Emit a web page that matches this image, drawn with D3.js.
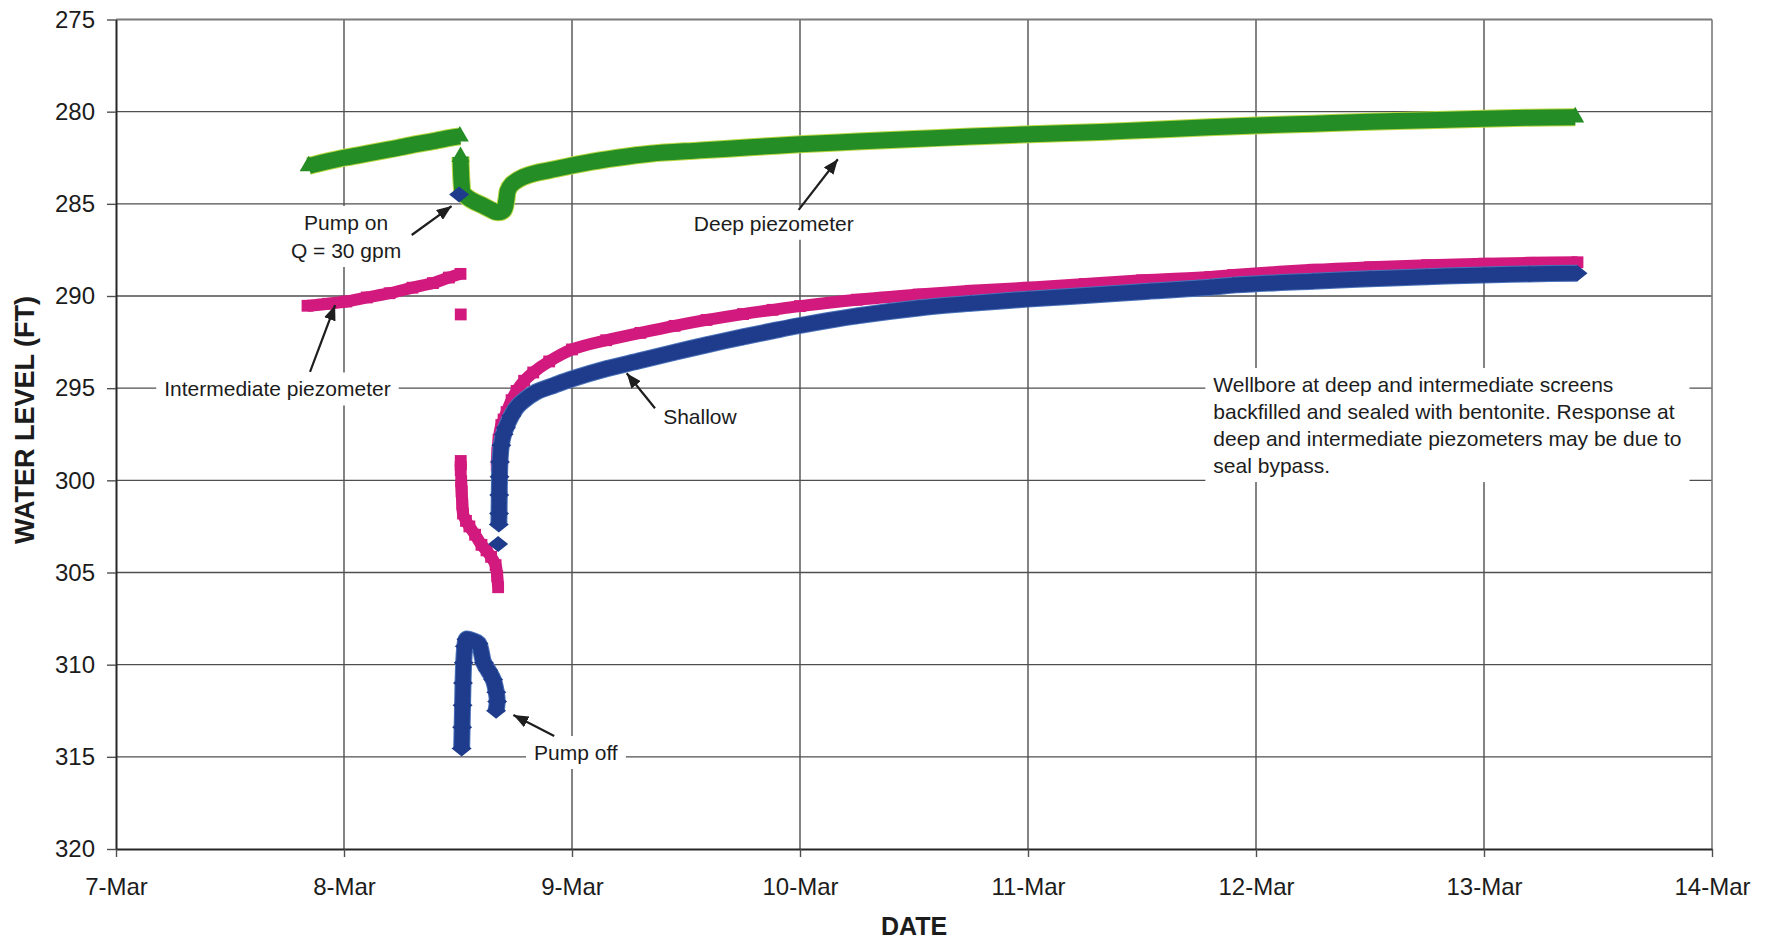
<!DOCTYPE html>
<html>
<head>
<meta charset="utf-8">
<script src="https://cdn.jsdelivr.net/npm/d3@7"></script>
<style>
  html, body { margin: 0; padding: 0; background: #ffffff; }
  svg { display: block; }
  text { font-family: "Liberation Sans", Arial, Helvetica, sans-serif; fill: #1c1c1c; }
</style>
</head>
<body>
<svg id="chart" width="1779" height="943"></svg>
<script>
// Axis labels
const dateLabels = ["7-Mar", "8-Mar", "9-Mar", "10-Mar", "11-Mar", "12-Mar", "13-Mar", "14-Mar"];
const levelTicks = [275, 280, 285, 290, 295, 300, 305, 310, 315, 320];

// Readings: [days after 7-Mar 00:00, water level (ft)]; null marks a break in the trace
const shallow = [
  [1.505, 284.5],
  null,
  [1.516, 314.55], [1.518, 313.4], [1.52, 312.2], [1.522, 311.0], [1.525, 309.9], [1.53, 309.0],
  [1.537, 308.62], [1.565, 308.7], [1.59, 308.85], [1.613, 309.9], [1.632, 310.3], [1.654, 310.8],
  [1.668, 311.5], [1.672, 312.0], [1.667, 312.5],
  null,
  [1.676, 303.45],
  null,
  [1.679, 302.4], [1.68, 301.8], [1.681, 300.8], [1.682, 299.8], [1.684, 299.0], [1.69, 298.1],
  [1.70, 297.5], [1.71, 297.15], [1.734, 296.5], [1.76, 296.0], [1.785, 295.7], [1.844, 295.2],
  [1.92, 294.85], [2.0, 294.5], [2.15, 293.95], [2.3, 293.5], [2.45, 293.05], [2.59, 292.65],
  [2.75, 292.22], [2.884, 291.88], [3.0, 291.6], [3.25, 291.08], [3.52, 290.65], [3.75, 290.4],
  [4.0, 290.17], [4.25, 289.97], [4.5, 289.77], [4.8, 289.53], [4.9, 289.41], [5.25, 289.2],
  [5.5, 289.07], [5.75, 288.95], [6.0, 288.86], [6.2, 288.8], [6.41, 288.77]
];

const intermediate = [
  [0.84, 290.53], [0.93, 290.42], [1.01, 290.3], [1.1, 290.08], [1.2, 289.85], [1.3, 289.55],
  [1.39, 289.3], [1.46, 289.0], [1.511, 288.8],
  null,
  [1.512, 291.0],
  null,
  [1.512, 298.95], [1.512, 299.45],
  null,
  [1.514, 300.05], [1.516, 300.6], [1.519, 301.3], [1.522, 301.8], [1.535, 302.2], [1.55, 302.5],
  [1.575, 302.95], [1.603, 303.5], [1.625, 303.8], [1.645, 304.15], [1.665, 304.6], [1.672, 305.2],
  [1.676, 305.8],
  null,
  [1.67, 299.2], [1.673, 298.5], [1.678, 297.8], [1.69, 297.0], [1.70, 296.7], [1.713, 296.3],
  [1.735, 295.65], [1.757, 295.15], [1.79, 294.6], [1.83, 294.15], [1.9, 293.55], [2.0, 292.9],
  [2.15, 292.4], [2.3, 292.0], [2.45, 291.62], [2.59, 291.3], [2.75, 290.98], [2.88, 290.75],
  [3.0, 290.55], [3.25, 290.2], [3.52, 289.92], [3.75, 289.72], [4.0, 289.55], [4.25, 289.35],
  [4.5, 289.15], [4.8, 288.97], [4.9, 288.86], [5.25, 288.58], [5.5, 288.44], [5.75, 288.33],
  [6.0, 288.25], [6.2, 288.2], [6.41, 288.17]
];

const deep = [
  [0.845, 282.95], [0.92, 282.72], [1.0, 282.5], [1.1, 282.28], [1.2, 282.05], [1.3, 281.8],
  [1.4, 281.58], [1.465, 281.42], [1.508, 281.34],
  null,
  [1.511, 282.45], [1.513, 283.2], [1.516, 283.9], [1.522, 284.4], [1.56, 284.8], [1.61, 285.1],
  [1.65, 285.35], [1.668, 285.45], [1.70, 285.35], [1.712, 284.8], [1.718, 284.3], [1.735, 283.95],
  [1.786, 283.55], [1.85, 283.3], [1.903, 283.17], [2.049, 282.8], [2.2, 282.5], [2.342, 282.28],
  [2.562, 282.1], [2.8, 281.92], [3.0, 281.77], [3.25, 281.62], [3.5, 281.48], [3.75, 281.35],
  [4.01, 281.22], [4.32, 281.1], [4.6, 280.95], [5.0, 280.75], [5.25, 280.65], [5.5, 280.55],
  [5.75, 280.47], [6.0, 280.38], [6.2, 280.33], [6.4, 280.3]
];

// Callouts: text anchored at [day, level] of the first baseline; arrows run tail -> tip
const notes = [
  { lines: ["Pump on", "Q = 30 gpm"], at: [1.009, 286.42], anchor: "middle", lineHeight: 28 },
  { lines: ["Intermediate piezometer"], at: [0.708, 295.45], anchor: "middle", lineHeight: 27 },
  { lines: ["Shallow"], at: [2.561, 296.94], anchor: "middle", lineHeight: 27 },
  { lines: ["Deep piezometer"], at: [2.885, 286.46], anchor: "middle", lineHeight: 27 },
  { lines: ["Pump off"], at: [2.017, 315.17], anchor: "middle", lineHeight: 27 },
  { lines: ["Wellbore at deep and intermediate screens",
            "backfilled and sealed with bentonite. Response at",
            "deep and intermediate piezometers may be due to",
            "seal bypass."], at: [4.813, 295.21], anchor: "start", lineHeight: 27 }
];
const arrows = [
  { from: [1.297, 286.69], to: [1.472, 285.12] },
  { from: [0.851, 294.12], to: [0.961, 290.50] },
  { from: [2.364, 296.09], to: [2.240, 294.19] },
  { from: [2.994, 285.33], to: [3.166, 282.58] },
  { from: [1.922, 313.87], to: [1.743, 312.73] }
];

// ---------------------------------------------------------------------------
const svg = d3.select("#chart");
const plot = { left: 116, right: 1712, top: 19.5, bottom: 849 };

const x = d3.scaleLinear().domain([0, dateLabels.length - 1]).range([plot.left, plot.right]);
const y = d3.scaleLinear().domain([levelTicks[0], levelTicks[levelTicks.length - 1]]).range([plot.top, plot.bottom]);

const gridColor = "#4f4f4f";
const borderColor = "#7a7a7a";

// Horizontal gridlines (inner levels)
svg.append("g")
  .selectAll("line")
  .data(levelTicks.slice(1, -1))
  .join("line")
  .attr("x1", plot.left).attr("x2", plot.right)
  .attr("y1", d => y(d)).attr("y2", d => y(d))
  .attr("stroke", gridColor).attr("stroke-width", 1.4);

// Vertical gridlines (inner days)
svg.append("g")
  .selectAll("line")
  .data(d3.range(1, dateLabels.length - 1))
  .join("line")
  .attr("x1", d => x(d)).attr("x2", d => x(d))
  .attr("y1", plot.top).attr("y2", plot.bottom)
  .attr("stroke", gridColor).attr("stroke-width", 1.4);

// Top and right frame
svg.append("line")
  .attr("x1", plot.left).attr("x2", plot.right).attr("y1", y(275)).attr("y2", y(275))
  .attr("stroke", borderColor).attr("stroke-width", 1.8);
svg.append("line")
  .attr("x1", x(7)).attr("x2", x(7)).attr("y1", plot.top).attr("y2", plot.bottom)
  .attr("stroke", borderColor).attr("stroke-width", 1.6);

// Axes with outward ticks and labels
const yAxis = svg.append("g")
  .attr("transform", `translate(${plot.left},0)`)
  .call(d3.axisLeft(y).tickValues(levelTicks).tickSize(9).tickPadding(12).tickSizeOuter(0));
const xAxis = svg.append("g")
  .attr("transform", `translate(0,${plot.bottom})`)
  .call(d3.axisBottom(x).tickValues(d3.range(dateLabels.length))
        .tickFormat(i => dateLabels[i]).tickSize(8).tickPadding(21).tickSizeOuter(0));

[yAxis, xAxis].forEach(a => {
  a.select(".domain").attr("stroke", "#262626").attr("stroke-width", 2);
  a.selectAll(".tick line").attr("stroke", gridColor).attr("stroke-width", 1.4);
  a.selectAll(".tick text")
    .attr("fill", "#1c1c1c")
    .style("font-family", '"Liberation Sans", Arial, Helvetica, sans-serif')
    .style("font-size", "24px");
});

// Axis titles
svg.append("text")
  .attr("transform", `translate(34,420) rotate(-90)`)
  .attr("text-anchor", "middle")
  .style("font-size", "27px").style("font-weight", "bold")
  .text("WATER LEVEL (FT)");
svg.append("text")
  .attr("x", (plot.left + plot.right) / 2).attr("y", 935)
  .attr("text-anchor", "middle")
  .style("font-size", "25px").style("font-weight", "bold")
  .text("DATE");

// Callout text boxes (white fill hides the grid behind the text)
const boxLayer = svg.append("g");
const seriesLayer = svg.append("g");
const noteLayer = svg.append("g");

notes.forEach(n => {
  const t = noteLayer.append("text")
    .attr("text-anchor", n.anchor)
    .style("font-size", "21px");
  n.lines.forEach((line, i) => {
    t.append("tspan")
      .attr("x", x(n.at[0]))
      .attr("y", y(n.at[1]) + i * n.lineHeight)
      .text(line);
  });
  const b = t.node().getBBox();
  boxLayer.append("rect")
    .attr("x", b.x - 8).attr("y", b.y - 5)
    .attr("width", b.width + 16).attr("height", b.height + 10)
    .attr("fill", "#ffffff");
});

// Arrowheads
svg.append("defs").append("marker")
  .attr("id", "head")
  .attr("viewBox", "0 0 15 12")
  .attr("refX", 15).attr("refY", 6)
  .attr("markerWidth", 15).attr("markerHeight", 12)
  .attr("markerUnits", "userSpaceOnUse")
  .attr("orient", "auto")
  .append("path").attr("d", "M0,0 L15,6 L0,12 Z").attr("fill", "#1e1e1e");

arrows.forEach(a => {
  noteLayer.append("line")
    .attr("x1", x(a.from[0])).attr("y1", y(a.from[1]))
    .attr("x2", x(a.to[0])).attr("y2", y(a.to[1]))
    .attr("stroke", "#1e1e1e").attr("stroke-width", 2.2)
    .attr("marker-end", "url(#head)");
});

// Data traces: dense logger readings drawn as a band of overlapping markers
const line = d3.line()
  .defined(d => d !== null)
  .x(d => x(d[0])).y(d => y(d[1]))
  .curve(d3.curveCatmullRom.alpha(0.5));

const wideDiamond = {
  draw(ctx, size) {
    const a = Math.sqrt(size) / 2;
    ctx.moveTo(0, -a * 0.8);
    ctx.lineTo(a, 0);
    ctx.lineTo(0, a * 0.8);
    ctx.lineTo(-a, 0);
    ctx.closePath();
  }
};

// Marks at the start and end of each unbroken run
const runEnds = arr => arr.filter((d, i) => d !== null && (i === 0 || arr[i - 1] === null || i === arr.length - 1 || arr[i + 1] === null));

const series = [
  { data: deep, color: "#258d25", halo: "#b9d844", width: 16, symbol: d3.symbolTriangle, size: 140, everyPoint: false },
  { data: intermediate, color: "#d2197e", halo: null, width: 12, symbol: d3.symbolSquare, size: 140, everyPoint: true },
  { data: shallow, color: "#1f3c8c", halo: "#4a72b8", width: 15, symbol: wideDiamond, size: 400, everyPoint: true }
];

series.forEach(s => {
  const g = seriesLayer.append("g");
  if (s.halo) {
    g.append("path")
      .attr("d", line(s.data))
      .attr("fill", "none")
      .attr("stroke", s.halo)
      .attr("stroke-width", s.width + 2)
      .attr("stroke-linejoin", "round");
  }
  g.append("path")
    .attr("d", line(s.data))
    .attr("fill", "none")
    .attr("stroke", s.color)
    .attr("stroke-width", s.width)
    .attr("stroke-linejoin", "round");
  const pts = s.everyPoint ? s.data.filter(d => d !== null) : runEnds(s.data);
  g.selectAll("path.marker")
    .data(pts)
    .join("path")
    .attr("class", "marker")
    .attr("transform", d => `translate(${x(d[0])},${y(d[1])})`)
    .attr("d", d3.symbol().type(s.symbol).size(s.size))
    .attr("fill", s.color);
});
</script>
</body>
</html>
